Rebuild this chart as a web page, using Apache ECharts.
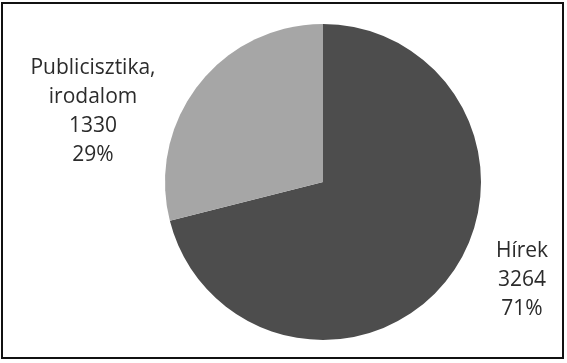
<!DOCTYPE html>
<html>
<head>
<meta charset="utf-8">
<script src="https://cdn.jsdelivr.net/npm/echarts@6/dist/echarts.min.js"></script>
<style>
  html, body { margin: 0; padding: 0; background: #fff; }
  #frame { position: absolute; left: 1px; top: 2px; width: 563px; height: 357px; border: 2px solid #111; box-sizing: border-box; }
  #chart { position: absolute; left: 0; top: 0; width: 567px; height: 363px; }
</style>
</head>
<body>
<div id="frame"></div>
<div id="chart"></div>
<script>
// Category names, counts and slice colours
const categories = ['Hírek', 'Publicisztika, irodalom'];
const counts = [3264, 1330];
const sliceColors = ['#4d4d4d', '#a6a6a6'];
// Label anchor points (centre of each text block)
const labelCenters = [[522, 280], [93, 112]];

const chart = echarts.init(document.getElementById('chart'));
chart.setOption({
  animation: false,
  series: [{
    type: 'pie',
    center: [323, 182],
    radius: 158,
    startAngle: 90,
    clockwise: true,
    percentPrecision: 0,
    data: categories.map((name, i) => ({ name, value: counts[i], itemStyle: { color: sliceColors[i] } })),
    label: {
      show: true,
      position: 'outside',
      formatter: p => p.name.replace(', ', ',\n') + '\n' + p.value + '\n' + p.percent + '%',
      fontFamily: 'Open Sans',
      fontSize: 21,
      lineHeight: 29,
      color: '#2b2b2b',
      align: 'center'
    },
    labelLine: { show: false },
    labelLayout: params => {
      const c = labelCenters[params.dataIndex];
      return { x: c[0], y: c[1], align: 'center', verticalAlign: 'middle' };
    },
    emphasis: { disabled: true }
  }]
});
</script>
</body>
</html>
